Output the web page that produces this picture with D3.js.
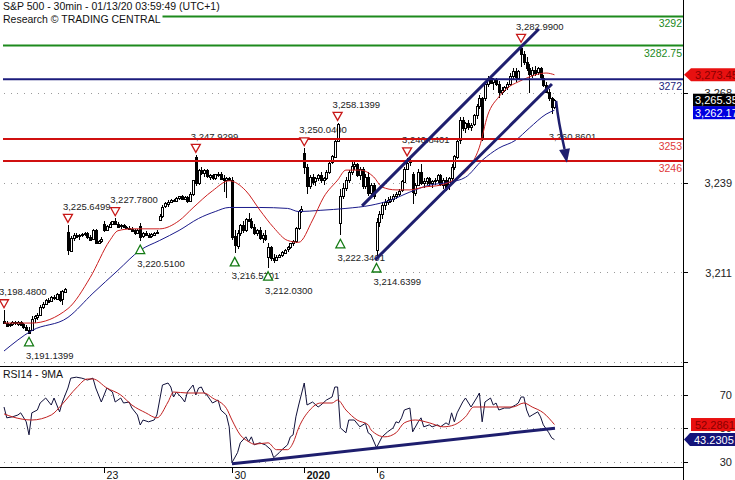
<!DOCTYPE html>
<html><head><meta charset="utf-8">
<script src="https://cdn.jsdelivr.net/npm/d3@7"></script>
<style>body{margin:0;background:#fff;} svg{display:block;font-family:"Liberation Sans",Arial,sans-serif;}</style>
</head><body><svg id="c" width="735" height="480"></svg>
<script>
// ---------- DATA (30-min bars, [open, high, low, close]) ----------
const dec18=[[3195.2,3198.48,3194,3194.5],[3194.5,3195,3193.3,3193.6],[3193.6,3194.5,3193,3194],[3194,3195,3193.5,3194.6],[3194.6,3195,3193.8,3194.2],[3194.2,3195,3193.5,3194.8],[3194.8,3195.2,3193.8,3194],[3194,3194.5,3192.5,3193],[3193,3193.8,3191.8,3192.2],[3192.2,3193,3191.14,3191.14]];
const dec19=[[3192.3,3196.5,3192.3,3195.8],[3195.8,3197,3194.5,3196.5],[3196.5,3197.5,3195.5,3197],[3197,3200,3196.5,3199.5],[3199.5,3201,3198.8,3200.5],[3200.5,3202,3200,3201.8],[3201.8,3202.5,3200.8,3201.2],[3201.2,3203,3201,3202.6],[3202.6,3203.2,3201.8,3202.2],[3202.2,3204,3202,3203.8],[3203.8,3204.5,3201,3202],[3202,3205,3200,3204.5],[3204.5,3205.48,3204,3205.37]];
const dec20=[[3223.3,3225.65,3216.03,3217.5],[3217.5,3222,3217,3221.5],[3221.5,3223,3220.5,3222.5],[3222.5,3223.2,3221.5,3222],[3222,3222.8,3221,3222.3],[3222.3,3223,3221.8,3222.6],[3222.6,3223.5,3222,3223],[3223,3223.4,3221.2,3221.8],[3221.8,3222.5,3220.5,3221],[3221,3224.5,3220.8,3224],[3224,3224.5,3219.5,3220],[3220,3221,3219.5,3220.5],[3220.5,3221.8,3220,3221.22]];
const dec23=[[3226,3226.8,3223.5,3224],[3224,3225.5,3223.8,3225.2],[3225.2,3226.5,3224.8,3226],[3226,3227,3225.5,3226.8],[3226.8,3227.78,3225.5,3226],[3226,3226.5,3224.8,3225.2],[3225.2,3225.8,3224.5,3225.5],[3225.5,3226,3224.8,3225],[3225,3225.4,3224.2,3224.8],[3224.8,3225.2,3224,3224.5],[3224.5,3225,3223.5,3224],[3224,3224.5,3222.3,3223.2],[3223.2,3224.5,3223,3224]];
const dec24=[[3225.4,3226.4,3220.51,3222],[3222,3223.5,3221.5,3223],[3223,3223.8,3222,3222.5],[3222.5,3223.2,3221.5,3222],[3222,3223,3221.5,3222.6],[3222.6,3223.5,3222,3223.2],[3223.2,3224,3222.8,3223.38]];
const dec26=[[3227.2,3229,3227.2,3228.5],[3228.5,3232,3228,3231.5],[3231.5,3233,3231,3232.5],[3232.5,3233.5,3231.5,3233],[3233,3234,3232.5,3233.5],[3233.5,3234,3232.8,3233.2],[3233.2,3234.5,3232.8,3234.2],[3234.2,3235,3233.5,3234.8],[3234.8,3235.2,3233.8,3234],[3234,3234.8,3233.5,3234.5],[3234.5,3235,3232.5,3233.2],[3233.2,3236,3233,3235.5],[3235.5,3240.08,3235,3239.91]];
const dec27=[[3247.2,3247.93,3238,3239],[3239,3243.5,3238.5,3243],[3243,3244,3241.5,3242],[3242,3243.5,3241,3243],[3243,3243.5,3240.5,3241],[3241,3242,3240,3241.5],[3241.5,3242,3239.8,3240.5],[3240.5,3242,3240,3241.8],[3241.8,3242.5,3241,3242],[3242,3242.5,3240,3240.5],[3240.5,3241.5,3236,3239.8],[3239.8,3241,3234.37,3240.5],[3240.5,3241,3239.5,3240.02]];
const dec30=[[3240.09,3240.92,3221,3222],[3222,3224,3216.57,3219],[3219,3224,3218,3223],[3223,3226,3222,3225.5],[3225.5,3227,3223,3224],[3224,3228,3223.5,3227.5],[3227.5,3229.5,3226.5,3227],[3227,3228,3224.5,3225],[3225,3226,3222.5,3223],[3223,3224.5,3222,3224],[3224,3225,3221,3221.5],[3221.5,3223,3220,3222.5],[3222.5,3224,3220.5,3221.29]];
const dec31=[[3215.2,3220,3212.03,3218.5],[3218.5,3219,3214,3215],[3215,3216.5,3213.5,3214.5],[3214.5,3216,3214,3215.5],[3215.5,3216.5,3215,3216],[3216,3217.5,3215.5,3217],[3217,3218,3216.5,3217.8],[3217.8,3219,3217,3218.5],[3218.5,3220,3218,3219.8],[3219.8,3221,3219,3220.5],[3220.5,3225,3220,3224.6],[3224.6,3230.5,3224,3230],[3230,3231.72,3229.5,3230.78]];
const jan02=[[3248.5,3250.04,3242,3244],[3244,3245,3235.53,3238],[3238,3241.5,3237,3241],[3241,3242,3238.5,3239.5],[3239.5,3241,3238,3240.5],[3240.5,3242,3239.5,3241.5],[3241.5,3242.5,3239,3240],[3240,3241,3238.5,3240.6],[3240.6,3243,3240,3242.5],[3242.5,3246,3242,3245.5],[3245.5,3248,3245,3247.5],[3247.5,3253,3247,3252.5],[3252.5,3258.14,3252,3257.85]];
const jan03=[[3226.4,3237,3222.34,3235],[3235,3239,3234,3237.5],[3237.5,3241,3236.5,3240],[3240,3243,3239,3242.5],[3242.5,3246.15,3241.5,3244.5],[3244.5,3246,3243,3245],[3245,3245.5,3241,3241.5],[3241.5,3244,3240,3243.5],[3243.5,3244,3237,3238],[3238,3242,3237,3241],[3241,3242.5,3235,3236],[3236,3239,3235,3238.5],[3238.5,3239,3234,3234.85]];
const jan06=[[3217.55,3228,3214.64,3226.5],[3226.5,3230,3225,3229],[3229,3233,3227.5,3232],[3232,3234,3230.5,3233],[3233,3234.5,3232,3233.5],[3233.5,3235,3232.5,3234],[3234,3235.5,3233,3235],[3235,3236,3234,3235.5],[3235.5,3237,3234.8,3236.5],[3236.5,3240,3236,3239.5],[3239.5,3244,3239,3243.5],[3243.5,3246.84,3243,3245.5],[3245.5,3246.5,3244.5,3246.28]];
const jan07=[[3241.86,3242.5,3232.43,3236],[3236,3239,3235,3238.5],[3238.5,3243.5,3238,3242.5],[3242.5,3244.91,3238.5,3239],[3239,3240.5,3237.5,3239.5],[3239.5,3241,3238.5,3240.5],[3240.5,3241,3238,3238.8],[3238.8,3240,3237.5,3239.5],[3239.5,3240.5,3238.5,3239.8],[3239.8,3242,3239,3241.5],[3241.5,3242,3238,3238.5],[3238.5,3240.5,3237,3240],[3240,3241,3236.5,3237.18]];
const jan08=[[3238.59,3241,3236.67,3240.5],[3240.5,3245,3239,3244],[3244,3248,3243,3247.5],[3247.5,3253,3246.5,3252.5],[3252.5,3260,3251.5,3259],[3259,3260,3255.5,3256.5],[3256.5,3258.5,3255,3258],[3258,3259,3256,3256.8],[3256.8,3258,3255.5,3257.5],[3257.5,3261,3257,3260.5],[3260.5,3264,3259.5,3263.5],[3263.5,3267.07,3262.5,3266],[3266,3266.5,3252.5,3253.05]];
const jan09=[[3266.03,3271,3265,3270.5],[3270.5,3273,3269.5,3272.5],[3272.5,3273.5,3270.5,3271],[3271,3272.5,3268.5,3272],[3272,3272.5,3270,3270.5],[3270.5,3271.5,3266,3268],[3268,3269.5,3267,3268.5],[3268.5,3270,3268,3269.5],[3269.5,3271,3268.5,3270.5],[3270.5,3274,3270,3273],[3273,3275.58,3272,3274.5],[3274.5,3275.5,3271,3272.5],[3272.5,3275,3272,3274.7]];
const jan10=[[3281.87,3282.99,3276,3280],[3280,3281,3276.5,3277.5],[3277.5,3279,3274.5,3275.5],[3275.5,3277,3267.7,3273.5],[3273.5,3276,3272.5,3275],[3275,3276.3,3273,3274.2],[3274.2,3276,3273.5,3275.5],[3275.5,3276,3272,3272.5],[3272.5,3273.5,3269.5,3270.2],[3270.2,3271,3267.5,3268],[3268,3269,3265,3266],[3266,3266.5,3260.86,3263],[3263,3265.6,3262.5,3265.35]];
const days=[dec18,dec19,dec20,dec23,dec24,dec26,dec27,dec30,dec31,jan02,jan03,jan06,jan07,jan08,jan09,jan10];
const dayTickDays=[3,7,9,11];            // which day arrays start a labelled tick
const dayTickLabels=["23","30","2020","6"];

// moving averages on price, [bar, value]
const maRed=[[0,3194.4],[10,3194.4],[23,3199.0],[31,3208.9],[38,3220.6],[41,3223.8],[46,3224.4],[56,3224.4],[63,3227.0],[68,3231.1],[75,3236.5],[81,3239.7],[87,3236.5],[92,3230.4],[97,3224.8],[102,3220.7],[106,3220.1],[111,3227.2],[115,3234.5],[120,3239.9],[123,3243.1],[128,3243.1],[133,3240.9],[136,3237.7],[141,3236.8],[146,3236.8],[151,3237.7],[157,3238.3],[163,3240.6],[168,3244.7],[171,3250.4],[174,3260.6],[178,3266.4],[181,3269.2],[185,3271.2],[188,3272.4],[191,3273.4],[195,3274.0],[198,3273.45]];
const maNavy=[[0,3185.5],[10,3192.0],[23,3196.2],[32,3203.9],[41,3211.2],[49,3217.6],[56,3220.7],[63,3223.9],[70,3227.7],[76,3229.9],[81,3231.2],[92,3231.2],[102,3230.9],[106,3229.9],[114,3230.3],[123,3230.9],[132,3231.9],[139,3233.5],[146,3236.1],[153,3238.3],[160,3239.2],[166,3240.8],[172,3246.2],[178,3250.1],[184,3252.6],[189,3256.5],[195,3260.9],[198,3262.17]];

// RSI14 and its 9MA, [bar, value]
const rsi=[[0,62.8],[1,56.3],[3,56.9],[5,58],[6,59.3],[8,53.9],[9,46.1],[10,59.3],[12,61],[13,65.2],[15,68.2],[17,64],[18,68.2],[19,64],[20,59.9],[21,65.8],[23,74.2],[24,80.1],[26,80.7],[28,80.1],[30,79],[32,80.1],[33,74.2],[35,65.8],[36,70],[37,74.2],[39,71.8],[40,65.8],[42,68.2],[43,65.2],[45,65.8],[46,62.2],[48,58],[49,52],[50,55],[52,53.9],[54,55],[55,58],[57,76],[59,77.2],[60,74.8],[61,68.8],[62,71.8],[64,68.2],[65,65.8],[66,71.8],[68,76],[69,70],[70,74.2],[71,74.8],[72,71.2],[73,70],[75,65.2],[77,67],[78,61],[80,58],[81,50.9],[82,29.4],[84,35.4],[85,41.3],[87,44.9],[88,41.9],[89,44.9],[90,40.1],[92,41.3],[94,40.1],[96,37.2],[97,32.4],[99,35.4],[100,37.2],[102,40.1],[103,44.9],[104,46.1],[105,56.9],[106,64],[108,77.2],[109,64],[111,65.8],[113,62.8],[114,64],[116,67],[118,68.8],[119,74.8],[120,74.8],[121,50.3],[123,47.3],[124,55],[126,55],[128,50.9],[130,53],[131,47.3],[132,46.1],[134,38.4],[136,44.9],[138,47.9],[140,50.3],[141,53.9],[142,53.3],[143,56.3],[144,61],[146,62.2],[147,47.9],[149,53.9],[150,56.3],[151,50.9],[153,52.1],[154,50.9],[156,52.1],[157,50.9],[159,53.3],[160,52.1],[161,59.3],[162,53.9],[163,59.3],[165,65.8],[166,68.2],[168,62.8],[170,68.2],[171,71.2],[172,53.9],[173,65.8],[175,68.2],[176,64],[177,65.2],[178,61],[180,62.2],[182,62.2],[184,64],[185,65.2],[186,68.8],[187,68.8],[188,61],[189,56.9],[190,58],[192,59.9],[193,56.9],[194,52.1],[196,47.3],[197,44.3],[198,43.2305]];
const rsiMa=[[0,58.7],[3,56.9],[10,55],[17,58],[21,64.6],[26,74.2],[30,79.6],[32,79.6],[37,74.2],[42,70],[46,64],[51,59.3],[55,56.3],[59,65.8],[61,71.8],[66,71.2],[72,71.2],[75,68.2],[80,62],[82,55],[85,46],[88,42],[90,40.5],[95,41.3],[98,37.2],[102,37.2],[104,41.3],[106,50.3],[110,61],[114,65.2],[118,65.2],[120,67],[123,61],[127,55],[131,52.1],[132,49.1],[137,44.9],[141,47.3],[144,53.3],[148,55],[153,53.3],[158,50.9],[162,52.1],[166,56.9],[169,62.8],[173,62.8],[178,62.8],[183,62.8],[187,65.2],[190,62.8],[194,59.3],[198,52.2861]];

// annotations
const peakBars=[0,23,40,69,108,120,145,186];
const peakVals=[3198.48,3225.6499,3227.78,3247.9299,3250.04,3258.1399,3246.8401,3282.99];
const troughBars=[9,49,83,95,121,134];
const troughVals=[3191.1399,3220.51,3216.5701,3212.03,3222.3401,3214.6399];
const lastLow=[197,3260.8601];
const levelVals=[3292,3282.75,3272,3253,3246];
const levelLabels=["3292","3282.75","3272","3253","3246"];
const channelUpper=[[128.8,3231.7],[192.4,3288.0]];
const channelLower=[[133.5,3214.5],[197.1,3270.5]];
const projArrow=[[198.6,3265.1],[202.5,3245.4]];
const rsiTrend=[[82,28.7],[198.2,50.1]];
const priceTicks=[3182,3210.5,3239,3267.5];
const priceTickLabels=["","3,211","3,239","3,268"];
const rsiTicks=[30,50,70];
const rsiTickLabels=["30","50","70"];
const lastClose=3265.35, maRedLast=3273.45, maNavyLast=3262.17, rsiLast=43.2305, rsiMaLast=52.2861;

// ---------- BUILD ----------
const bars=[].concat(...days);
const dayStart=[]; {let s=0; days.forEach(d=>{dayStart.push(s); s+=d.length;});}

const svg=d3.select("#c");
const PR=683;
const x=d3.scaleLinear().domain([0,100]).range([4,282]);
const y=d3.scaleLinear().domain([3180.73,3297.25]).range([366,0]);
const yR=d3.scaleLinear().domain([26.8,87.4]).range([467,366]);

svg.append("rect").attr("width",735).attr("height",480).attr("fill","#fff");
const defs=svg.append("defs");
defs.append("clipPath").attr("id","cm").append("rect").attr("x",0).attr("y",0).attr("width",PR).attr("height",366);
defs.append("clipPath").attr("id","cr").append("rect").attr("x",0).attr("y",367).attr("width",PR).attr("height",100);

// grid
const grid=svg.append("g").attr("stroke","#9a9a9a").attr("stroke-dasharray","1,5.7").attr("shape-rendering","crispEdges");
priceTicks.forEach(v=>grid.append("line").attr("x1",4).attr("x2",PR).attr("y1",Math.round(y(v))+0.5).attr("y2",Math.round(y(v))+0.5));
rsiTicks.forEach(v=>grid.append("line").attr("x1",4).attr("x2",PR).attr("y1",Math.round(yR(v))+0.5).attr("y2",Math.round(yR(v))+0.5));

// marker labels (behind marks)
const f4=d3.format(",.4f");
const lab=svg.append("g").attr("font-size","9.5px").attr("fill","#222");
peakBars.forEach((b,k)=>lab.append("text").attr("x",x(b)-5).attr("y",y(peakVals[k])-15).text(f4(peakVals[k])));
troughBars.forEach((b,k)=>lab.append("text").attr("x",x(b)-3).attr("y",y(troughVals[k])+26).text(f4(troughVals[k])));
lab.append("text").attr("x",x(lastLow[0])-3).attr("y",y(lastLow[1])+26).text(f4(lastLow[1]));

// candles
const cg=svg.append("g").attr("clip-path","url(#cm)").attr("shape-rendering","crispEdges");
bars.forEach((d,i)=>{
  const cx=Math.round(x(i));
  cg.append("line").attr("x1",cx+0.5).attr("x2",cx+0.5).attr("y1",y(d[1])).attr("y2",y(d[2])).attr("stroke","#000");
  const t=y(Math.max(d[0],d[3])), b=y(Math.min(d[0],d[3]));
  cg.append("rect").attr("x",cx-0.5).attr("width",2).attr("y",Math.round(t)+0.5).attr("height",Math.max(1,Math.round(b-t)))
    .attr("fill",d[3]>=d[0]?"#fff":"#000").attr("stroke","#000").attr("stroke-width",1);
});

// MAs
const lineP=d3.line().x(d=>x(d[0])).y(d=>y(d[1])).curve(d3.curveMonotoneX);
const mg=svg.append("g").attr("clip-path","url(#cm)").attr("fill","none");
mg.append("path").attr("d",lineP(maNavy)).attr("stroke","#1a1a8a").attr("stroke-width",1);
mg.append("path").attr("d",lineP(maRed)).attr("stroke","#cc2020").attr("stroke-width",1);

// levels
const levelColors=["#1d8a1d","#1d8a1d","#1c1c7c","#d01010","#d01010"];
const lvl=svg.append("g");
levelVals.forEach((v,k)=>{
  lvl.append("line").attr("x1",3).attr("x2",PR).attr("y1",y(v)).attr("y2",y(v)).attr("stroke",levelColors[k]).attr("stroke-width",2);
  lvl.append("text").attr("x",682).attr("y",y(v)+11).attr("text-anchor","end").attr("font-size","10.5px")
    .attr("fill",k>=3?"#e03a3a":levelColors[k]).text(levelLabels[k]);
});

// channel + arrow
const navy="#1e1e6e";
const ann=svg.append("g").attr("clip-path","url(#cm)");
[channelUpper,channelLower].forEach(c=>ann.append("line").attr("x1",x(c[0][0])).attr("y1",y(c[0][1])).attr("x2",x(c[1][0])).attr("y2",y(c[1][1])).attr("stroke",navy).attr("stroke-width",3));
{
  const x0=x(projArrow[0][0]),y0=y(projArrow[0][1]),x1=x(projArrow[1][0]),y1=y(projArrow[1][1]);
  const ang=Math.atan2(y1-y0,x1-x0), hl=14, hw=5.5;
  const bx=x1-hl*Math.cos(ang), by=y1-hl*Math.sin(ang);
  ann.append("path").attr("d",`M${x0},${y0} Q${x0+2},${y0+20} ${bx},${by}`).attr("fill","none").attr("stroke",navy).attr("stroke-width",2.5);
  ann.append("path").attr("d",`M${x1},${y1} L${bx+hw*Math.sin(ang)},${by-hw*Math.cos(ang)} L${bx-hw*Math.sin(ang)},${by+hw*Math.cos(ang)} Z`).attr("fill",navy);
}

// triangles
const tri=svg.append("g").attr("fill","#fff").attr("stroke-width",1.3);
peakBars.forEach((b,k)=>{const cx=x(b),yy=y(peakVals[k]);
  tri.append("path").attr("d",`M${cx-4.5},${yy-10.5} L${cx+4.5},${yy-10.5} L${cx},${yy-2.5} Z`).attr("stroke","#c81818");});
troughBars.forEach((b,k)=>{const cx=x(b),yy=y(troughVals[k]);
  tri.append("path").attr("d",`M${cx},${yy+4} L${cx+4.5},${yy+12.5} L${cx-4.5},${yy+12.5} Z`).attr("stroke","#137a13");});

// RSI panel
const lineR=d3.line().x(d=>x(d[0])).y(d=>yR(d[1]));
const rg=svg.append("g").attr("clip-path","url(#cr)").attr("fill","none");
rg.append("path").attr("d",lineR(rsi)).attr("stroke","#10103a").attr("stroke-width",1);
rg.append("path").attr("d",lineR.curve(d3.curveMonotoneX)(rsiMa)).attr("stroke","#c02020").attr("stroke-width",1);
rg.append("line").attr("x1",x(rsiTrend[0][0])).attr("y1",yR(rsiTrend[0][1])).attr("x2",x(rsiTrend[1][0])).attr("y2",yR(rsiTrend[1][1])).attr("stroke",navy).attr("stroke-width",3);
svg.append("text").attr("x",3).attr("y",378).attr("font-size","10.5px").attr("fill","#111").text("RSI14 - 9MA");

// frame lines
const fr=svg.append("g").attr("stroke","#000").attr("shape-rendering","crispEdges");
fr.append("line").attr("x1",0).attr("x2",PR).attr("y1",366.5).attr("y2",366.5);
fr.append("line").attr("x1",0).attr("x2",PR).attr("y1",467.5).attr("y2",467.5);
fr.append("line").attr("x1",683.5).attr("x2",683.5).attr("y1",0).attr("y2",480);

// axes
const ay=svg.append("g").attr("transform","translate(683,0)")
  .call(d3.axisRight(y).tickValues(priceTicks).tickSize(5).tickFormat((d,k)=>priceTickLabels[k]));
const ar=svg.append("g").attr("transform","translate(683,0)")
  .call(d3.axisRight(yR).tickValues(rsiTicks).tickSize(5).tickFormat((d,k)=>rsiTickLabels[k]));
[ay,ar].forEach(a=>{a.select(".domain").remove();
  a.selectAll("text").attr("x",49).attr("text-anchor","end").attr("font-size","11px").attr("fill","#222").attr("font-family","Liberation Sans, Arial, sans-serif");
  a.selectAll("line").attr("shape-rendering","crispEdges");});
const tickBars=dayTickDays.map(d=>dayStart[d]);
const ax=svg.append("g").attr("transform","translate(0,467)")
  .call(d3.axisBottom(x).tickValues(tickBars).tickSize(6).tickFormat((d,k)=>dayTickLabels[k]));
ax.select(".domain").remove();
ax.selectAll("line").attr("shape-rendering","crispEdges");
ax.selectAll("text").attr("text-anchor","start").attr("x",2).attr("y",5).attr("dy","0.71em").attr("font-size","10.5px").attr("fill","#111")
  .attr("font-family","Liberation Sans, Arial, sans-serif").attr("font-weight",(d,k)=>dayTickLabels[k]==="2020"?"bold":"normal");

// price tags
const f2=d3.format(",.2f");
const tg=svg.append("g").attr("font-size","11px");
function tag(yc,txt,bg,fg,arrow,left){
  const h=13, top=yc-h/2;
  if(arrow){tg.append("path").attr("d",`M${684},${yc} L${left},${top} L735,${top} L735,${top+h} L${left},${top+h} Z`).attr("fill",bg);}
  else tg.append("rect").attr("x",left).attr("y",top).attr("width",735-left).attr("height",h).attr("fill",bg);
  tg.append("text").attr("x",left===693?695:left+4).attr("y",top+10.5).attr("fill",fg).text(txt);
}
const yRedTag=y(maRedLast), yBlack=y(lastClose);
let yBlue=y(maNavyLast); if(yBlue-yBlack<12.5) yBlue=yBlack+12.5;
tag(yRedTag,f2(maRedLast),"#e81010","#8a0000",true,691);
tag(yBlack,f2(lastClose),"#000","#fff",false,693);
tag(yBlue,f2(maNavyLast),"#0000e0","#fff",false,693);
tag(yR(rsiMaLast),d3.format(".4f")(rsiMaLast),"#e81010","#8a0000",false,691);
tag(yR(rsiLast),d3.format(".4f")(rsiLast),"#14147a","#fff",true,690);

// header
const hd=svg.append("g").attr("font-size","10.5px").attr("fill","#111");
hd.append("text").attr("x",3).attr("y",9.5).text("S&P 500 - 30min - 01/13/20 03:59:49 (UTC+1)");
const bgR=hd.append("rect").attr("fill","#fff");
const t2=hd.append("text").attr("x",3).attr("y",22.5).text("Research © TRADING CENTRAL");
const w2=t2.node().getComputedTextLength();
bgR.attr("x",0).attr("y",12).attr("width",w2+5).attr("height",13);
</script></body></html>
